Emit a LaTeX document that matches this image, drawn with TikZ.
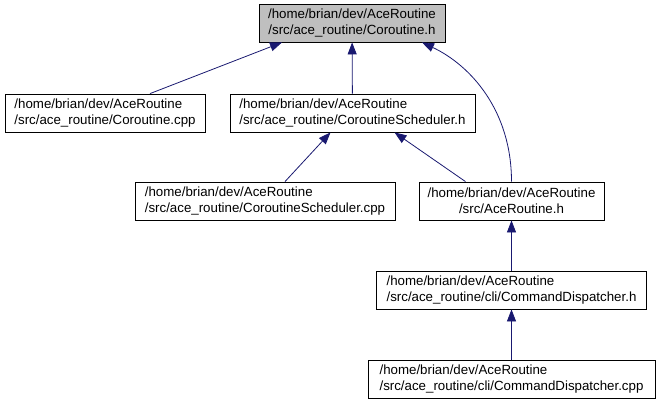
\documentclass[tikz,border=0pt]{standalone}
\usepackage{fontspec}
\setmainfont{Liberation Sans}
\usepackage{xcolor}
\usepackage{tikz}
\usetikzlibrary{arrows.meta}
\definecolor{midnight}{HTML}{191970}
\definecolor{grey75}{HTML}{BFBFBF}

\begin{document}
\begin{tikzpicture}[x=1pt, y=-1pt,
  file/.style={draw=black, line width=0.8pt, fill=white, minimum height=38pt,
    inner xsep=0pt, align=left, font=\fontsize{13.3}{16}\selectfont},
  incl/.style={draw=midnight, line width=0.8pt,
    {Triangle[length=12pt,width=9pt,fill=midnight]}-}]
\useasboundingbox (0,0) rectangle (659,409);

\node[file, fill=grey75, minimum width=186pt, align=center] (corh) at (352,23)
    {/home/brian/dev/AceRoutine\\/src/ace\_routine/Coroutine.h};
\node[file, minimum width=200pt] (corcpp) at (105,113)
    {/home/brian/dev/AceRoutine\\/src/ace\_routine/Coroutine.cpp};
\node[file, minimum width=245pt] (schedh) at (352.5,113)
    {/home/brian/dev/AceRoutine\\/src/ace\_routine/CoroutineScheduler.h};
\node[file, minimum width=260pt] (schedcpp) at (265,201)
    {/home/brian/dev/AceRoutine\\/src/ace\_routine/CoroutineScheduler.cpp};
\node[file, minimum width=185pt, align=center] (aceh) at (511.5,201)
    {/home/brian/dev/AceRoutine\\/src/AceRoutine.h};
\node[file, minimum width=270pt] (cmdh) at (511.5,290)
    {/home/brian/dev/AceRoutine\\/src/ace\_routine/cli/CommandDispatcher.h};
\node[file, minimum width=287pt] (cmdcpp) at (511.5,379)
    {/home/brian/dev/AceRoutine\\/src/ace\_routine/cli/CommandDispatcher.cpp};

\draw[incl] ([xshift=-70]corh.south) -- ([xshift=45]corcpp.north);
\draw[incl] (corh) -- (schedh);
\draw[incl] ([xshift=70]corh.south) .. controls (470,65) and (511.5,110) .. (aceh.north);
\draw[incl] ([xshift=-22]schedh.south) -- ([xshift=20]schedcpp.north);
\draw[incl] ([xshift=42]schedh.south) -- ([xshift=-46]aceh.north);
\draw[incl] (aceh) -- (cmdh);
\draw[incl] (cmdh) -- (cmdcpp);
\end{tikzpicture}
\end{document}
